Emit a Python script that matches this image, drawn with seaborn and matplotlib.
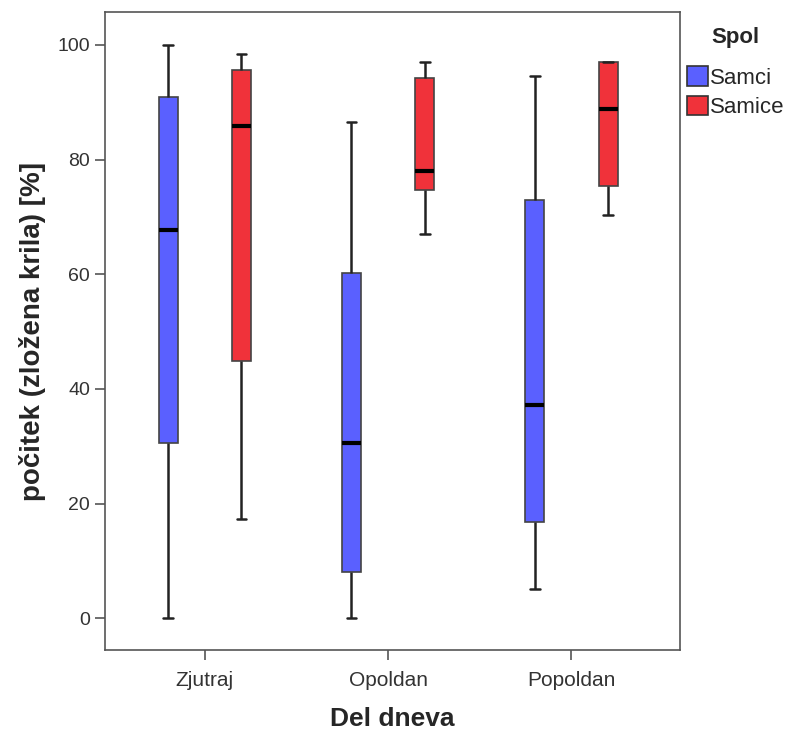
import matplotlib
matplotlib.use("Agg")
import matplotlib.pyplot as plt
import seaborn as sns
import pandas as pd

# five-number summaries: min, q1, median, q3, max
categories = ["Zjutraj", "Opoldan", "Popoldan"]
groups = ["Samci", "Samice"]
samci = {
    "Zjutraj": [0.0, 30.6, 67.7, 90.9, 100.0],
    "Opoldan": [0.0, 8.0, 30.5, 60.2, 86.6],
    "Popoldan": [5.1, 16.8, 37.2, 72.9, 94.6],
}
samice = {
    "Zjutraj": [17.3, 44.9, 85.9, 95.6, 98.5],
    "Opoldan": [67.1, 74.7, 78.1, 94.2, 97.0],
    "Popoldan": [70.4, 75.4, 88.8, 97.0, 97.0],
}

rows = []
for cat in categories:
    for v in samci[cat]:
        rows.append((cat, "Samci", v))
    for v in samice[cat]:
        rows.append((cat, "Samice", v))
df = pd.DataFrame(rows, columns=["Del dneva", "Spol", "vrednost"])

sns.set_style("white")
plt.rcParams["font.family"] = ["Liberation Sans", "DejaVu Sans"]

fig = plt.figure(figsize=(7.94, 7.34), dpi=100)
ax = fig.add_axes([0.132, 0.114, 0.724, 0.87])

pal = {"Samci": "#5a60ff", "Samice": "#f0323a"}
sns.boxplot(data=df, x="Del dneva", y="vrednost", hue="Spol", order=categories,
            hue_order=groups, palette=pal, whis=(0, 100), width=0.8, gap=0.74,
            saturation=1, linewidth=1.6, linecolor="#222222",
            medianprops=dict(color="black", linewidth=3),
            whiskerprops=dict(color="#222222", linewidth=1.8),
            capprops=dict(color="#222222", linewidth=1.8),
            boxprops=dict(edgecolor="#444444", linewidth=1.2),
            showfliers=False, ax=ax)

ax.set_xlim(-0.545, 2.59)
ax.set_ylim(-5.6, 105.8)
ax.set_yticks([0, 20, 40, 60, 80, 100])
for s in ax.spines.values():
    s.set_visible(True)
    s.set_color("#555555")
    s.set_linewidth(1.2)
ax.tick_params(axis="both", direction="out", length=7, width=1.2, color="#555555",
               labelcolor="#333333", left=True, bottom=True)
ax.tick_params(axis="y", labelsize=14)
ax.tick_params(axis="x", labelsize=15, pad=8)
ax.set_xlabel("Del dneva", fontsize=19, fontweight="bold", labelpad=12)
ax.set_ylabel("počitek (zložena krila) [%]", fontsize=20, fontweight="bold", labelpad=8)

leg = ax.legend(title="Spol", loc="upper left", bbox_to_anchor=(0.985, 1.0), frameon=False,
                fontsize=16, title_fontproperties=dict(weight="bold", size=16),
                handlelength=0.95, handleheight=1.0, handletextpad=0.1,
                labelspacing=0.3, borderaxespad=0.3)
leg._legend_box.sep = 13
for p in leg.get_patches():
    p.set_edgecolor("#333333")

fig.savefig("out.png", dpi=100)
